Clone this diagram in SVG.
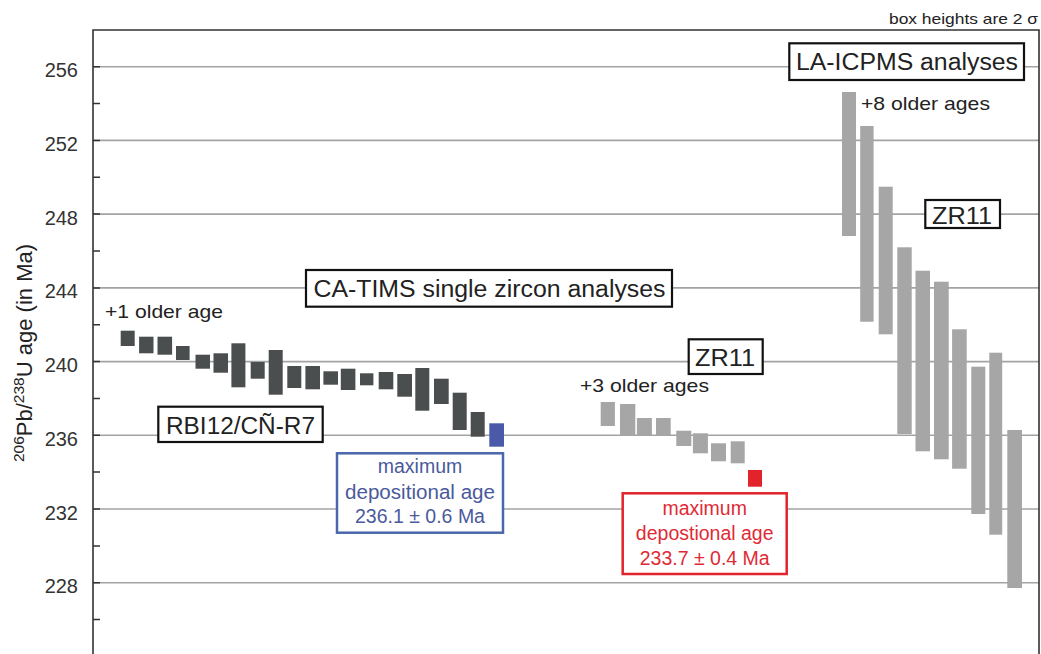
<svg xmlns="http://www.w3.org/2000/svg" width="1041" height="654" viewBox="0 0 1041 654">
<style>
text{font-family:"Liberation Sans",Arial,sans-serif;fill:#222}
.grid{stroke:#a3a3a3;stroke-width:1.6}
.tick{stroke:#333;stroke-width:1.5}
.ylab{font-size:20px;text-anchor:end;fill:#333}
.dk{fill:#4b4e4e}
.lt{fill:#a6a6a6}
.lbl{fill:#fff;stroke:#111;stroke-width:2.2}
.big{font-size:23px}
.note{font-size:19px}
</style>
<rect width="1041" height="654" fill="#fff"/>
<g id="grid">
<line class="grid" x1="93" y1="66.7" x2="1039" y2="66.7"/>
<line class="grid" x1="93" y1="140.4" x2="1039" y2="140.4"/>
<line class="grid" x1="93" y1="214.1" x2="1039" y2="214.1"/>
<line class="grid" x1="93" y1="287.9" x2="1039" y2="287.9"/>
<line class="grid" x1="93" y1="361.6" x2="1039" y2="361.6"/>
<line class="grid" x1="93" y1="435.3" x2="1039" y2="435.3"/>
<line class="grid" x1="93" y1="509.0" x2="1039" y2="509.0"/>
<line class="grid" x1="93" y1="582.7" x2="1039" y2="582.7"/>
</g>
<g id="axes">
<path d="M93,654 V30 H1039 V654" fill="none" stroke="#333" stroke-width="1.6"/>
<path class="tick" d="M93,66.7h7M93,103.6h7M93,140.4h7M93,177.3h7M93,214.1h7M93,251h7M93,287.9h7M93,324.7h7M93,361.6h7M93,398.4h7M93,435.3h7M93,472.1h7M93,509h7M93,545.9h7M93,582.7h7M93,619.6h7"/>
<text class="ylab" x="78" y="77">256</text>
<text class="ylab" x="78" y="151">252</text>
<text class="ylab" x="78" y="224.5">248</text>
<text class="ylab" x="78" y="298">244</text>
<text class="ylab" x="78" y="372">240</text>
<text class="ylab" x="78" y="445.5">236</text>
<text class="ylab" x="78" y="519.5">232</text>
<text class="ylab" x="78" y="593">228</text>
<text transform="translate(31.5,353) rotate(-90)" text-anchor="middle" font-size="22" fill="#333"><tspan font-size="15.5" dy="-7.5">206</tspan><tspan dy="7.5">Pb/</tspan><tspan font-size="15.5" dy="-7.5">238</tspan><tspan dy="7.5">U age (in Ma)</tspan></text>
<text x="889" y="24" font-size="15" textLength="149" lengthAdjust="spacingAndGlyphs">box heights are 2 σ</text>
</g>
<g id="catims-data">
<rect class="dk" x="120.7" y="330.7" width="14" height="15.3"/>
<rect class="dk" x="139.1" y="336.7" width="14.4" height="16.6"/>
<rect class="dk" x="157.5" y="336.7" width="14.6" height="18"/>
<rect class="dk" x="176" y="346" width="13.6" height="14"/>
<rect class="dk" x="195.5" y="354.7" width="14.5" height="14"/>
<rect class="dk" x="213.5" y="353.3" width="14.5" height="19.4"/>
<rect class="dk" x="231.4" y="343.3" width="14" height="44"/>
<rect class="dk" x="250.7" y="362" width="14" height="16.7"/>
<rect class="dk" x="268.7" y="350" width="14" height="44.7"/>
<rect class="dk" x="287.3" y="366" width="14" height="22"/>
<rect class="dk" x="305.4" y="366" width="14.6" height="23.3"/>
<rect class="dk" x="323.4" y="371.3" width="14.6" height="13.4"/>
<rect class="dk" x="340.8" y="368.7" width="14.6" height="21.3"/>
<rect class="dk" x="360" y="373.3" width="13.4" height="12"/>
<rect class="dk" x="378.7" y="372" width="14.6" height="17.3"/>
<rect class="dk" x="397.3" y="374" width="14.7" height="22.7"/>
<rect class="dk" x="415.3" y="368" width="14" height="42.7"/>
<rect class="dk" x="434" y="378.7" width="14.7" height="25.3"/>
<rect class="dk" x="452.7" y="392.7" width="14" height="37.3"/>
<rect class="dk" x="470.7" y="412" width="14" height="24.7"/>
<rect x="489.3" y="423.3" width="14.7" height="23.4" fill="#4b5aa8"/>
</g>
<g id="zr11-tims-data">
<rect class="lt" x="600.7" y="402" width="14.2" height="24"/>
<rect class="lt" x="620" y="404" width="15.3" height="32"/>
<rect class="lt" x="636.9" y="418" width="15" height="18"/>
<rect class="lt" x="656" y="418" width="14.7" height="18"/>
<rect class="lt" x="676.3" y="430.7" width="15" height="15.3"/>
<rect class="lt" x="692.9" y="433.3" width="15" height="20"/>
<rect class="lt" x="711" y="443.3" width="15" height="18"/>
<rect class="lt" x="730.7" y="441.3" width="14" height="22"/>
<rect x="748" y="470" width="14" height="16.7" fill="#e3232c"/>
</g>
<g id="laicpms-data">
<rect class="lt" x="842" y="92" width="14" height="144"/>
<rect class="lt" x="860.2" y="126" width="13.4" height="195.7"/>
<rect class="lt" x="878.7" y="186.7" width="14" height="147.6"/>
<rect class="lt" x="897.3" y="247.3" width="14.4" height="186.7"/>
<rect class="lt" x="915.5" y="270.7" width="14.5" height="180.6"/>
<rect class="lt" x="934" y="281.7" width="14.7" height="177.6"/>
<rect class="lt" x="952.1" y="329.3" width="14.6" height="139.4"/>
<rect class="lt" x="971.3" y="366.7" width="14" height="147.3"/>
<rect class="lt" x="989.3" y="352.7" width="12.9" height="182"/>
<rect class="lt" x="1007.3" y="430" width="14.7" height="158"/>
</g>
<g id="label-catims">
<rect class="lbl" x="306" y="270" width="366" height="36.7"/>
<text class="big" x="313.5" y="296.5" textLength="352" lengthAdjust="spacingAndGlyphs">CA-TIMS single zircon analyses</text>
</g>
<g id="label-laicpms">
<rect class="lbl" x="789.3" y="43.3" width="234.7" height="36.7"/>
<text class="big" x="796" y="70" textLength="222" lengthAdjust="spacingAndGlyphs">LA-ICPMS analyses</text>
</g>
<g id="label-zr11-upper">
<rect class="lbl" x="925.3" y="200" width="74.7" height="28"/>
<text class="big" x="932" y="224" textLength="60" lengthAdjust="spacingAndGlyphs">ZR11</text>
</g>
<g id="label-zr11-mid">
<rect class="lbl" x="688.7" y="339.3" width="74" height="34.7"/>
<text class="big" x="695" y="366" textLength="60" lengthAdjust="spacingAndGlyphs">ZR11</text>
</g>
<g id="label-rbi">
<rect class="lbl" x="158.3" y="406.7" width="164.4" height="35.3"/>
<text class="big" x="166" y="434" textLength="149" lengthAdjust="spacingAndGlyphs">RBI12/CÑ-R7</text>
</g>
<g id="note-1older">
<text class="note" x="105" y="318" textLength="118" lengthAdjust="spacingAndGlyphs">+1 older age</text>
</g>
<g id="note-3older">
<text class="note" x="580" y="392" textLength="129" lengthAdjust="spacingAndGlyphs">+3 older ages</text>
</g>
<g id="note-8older">
<text class="note" x="861" y="110" textLength="129" lengthAdjust="spacingAndGlyphs">+8 older ages</text>
</g>
<g id="label-max-blue">
<rect x="337" y="453.3" width="166" height="79.4" fill="#fff" stroke="#4a67ad" stroke-width="2.5"/>
<text x="420" y="473" font-size="19.5" text-anchor="middle" style="fill:#4a5a9c">maximum</text>
<text x="420" y="499" font-size="19.5" text-anchor="middle" style="fill:#4a5a9c" textLength="150" lengthAdjust="spacingAndGlyphs">depositional age</text>
<text x="420" y="523" font-size="19.5" text-anchor="middle" style="fill:#4a5a9c">236.1 ± 0.6 Ma</text>
</g>
<g id="label-max-red">
<rect x="622.7" y="493.3" width="164" height="80.7" fill="#fff" stroke="#e3232c" stroke-width="2.5"/>
<text x="704.7" y="515" font-size="19.5" text-anchor="middle" style="fill:#df2a36">maximum</text>
<text x="704.7" y="540" font-size="19.5" text-anchor="middle" style="fill:#df2a36">depostional age</text>
<text x="704.7" y="565" font-size="19.5" text-anchor="middle" style="fill:#df2a36">233.7 ± 0.4 Ma</text>
</g>
</svg>
